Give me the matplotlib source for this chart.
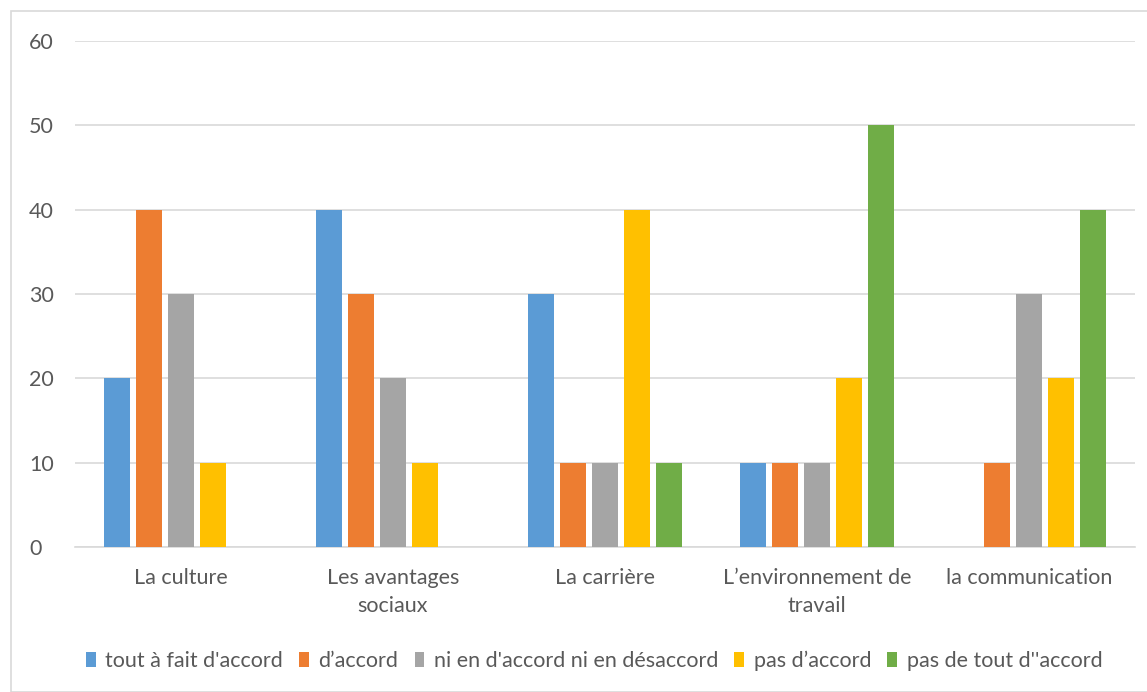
import numpy as np
import matplotlib.pyplot as plt
from matplotlib.patches import Rectangle

# Survey answers per theme (percent)
categories = ["La culture", "Les avantages\nsociaux", "La carrière",
              "L\u2019environnement de\ntravail", "la communication"]
series_names = ["tout à fait d'accord", "d\u2019accord",
                "ni en d'accord ni en désaccord", "pas d\u2019accord",
                "pas de tout d''accord"]
tout_a_fait = [20, 40, 30, 10, 0]
d_accord = [40, 30, 10, 10, 10]
neutre = [30, 20, 10, 10, 30]
pas_d_accord = [10, 10, 40, 20, 20]
pas_du_tout = [0, 0, 10, 50, 40]
yticks = [0, 10, 20, 30, 40, 50, 60]

colors = ["#5b9bd5", "#ed7d31", "#a5a5a5", "#ffc000", "#70ad47"]
text_color = "#595959"
grid_color = "#d9d9d9"
fs = 15.5

plt.rcParams['font.family'] = ['Lato', 'DejaVu Sans']

fig = plt.figure(figsize=(11.47, 6.92), dpi=100)
fig.patches.append(Rectangle((11 / 1147, 0), 1.0, 1 - 11 / 692,
                             transform=fig.transFigure, fill=False,
                             edgecolor=grid_color, lw=1.2))

ax = fig.add_axes([75 / 1147, 1 - 547 / 692, 1060 / 1147, 506 / 692])

x = np.arange(len(categories))
step = 0.151
width = 0.123
all_series = [tout_a_fait, d_accord, neutre, pas_d_accord, pas_du_tout]
for i, (vals, name, c) in enumerate(zip(all_series, series_names, colors)):
    ax.bar(x + (i - 2) * step, vals, width, color=c, label=name, zorder=3)

ax.set_xlim(-0.5, len(categories) - 0.5)
ax.set_ylim(0, 60)
ax.set_yticks(yticks)
ax.set_xticks(x)
ax.set_xticklabels(categories, fontsize=fs, color=text_color,
                   linespacing=1.5)
ax.tick_params(axis='y', labelsize=fs, labelcolor=text_color, length=0, pad=33)
ax.tick_params(axis='x', length=0, pad=15)
for lab in ax.get_yticklabels():
    lab.set_horizontalalignment('left')

ax.grid(axis='y', color=grid_color, lw=1.2, zorder=0)
for side in ['left', 'right', 'top']:
    ax.spines[side].set_visible(False)
ax.spines['bottom'].set_color(grid_color)
ax.spines['bottom'].set_linewidth(1.2)

leg = fig.legend(loc='center', bbox_to_anchor=(0.518, 1 - 661 / 692), ncol=5,
                 frameon=False, fontsize=fs, handlelength=0.45,
                 handleheight=0.7, handletextpad=0.45, columnspacing=0.75)
for t in leg.get_texts():
    t.set_color(text_color)

fig.savefig("out.png", dpi=100)
